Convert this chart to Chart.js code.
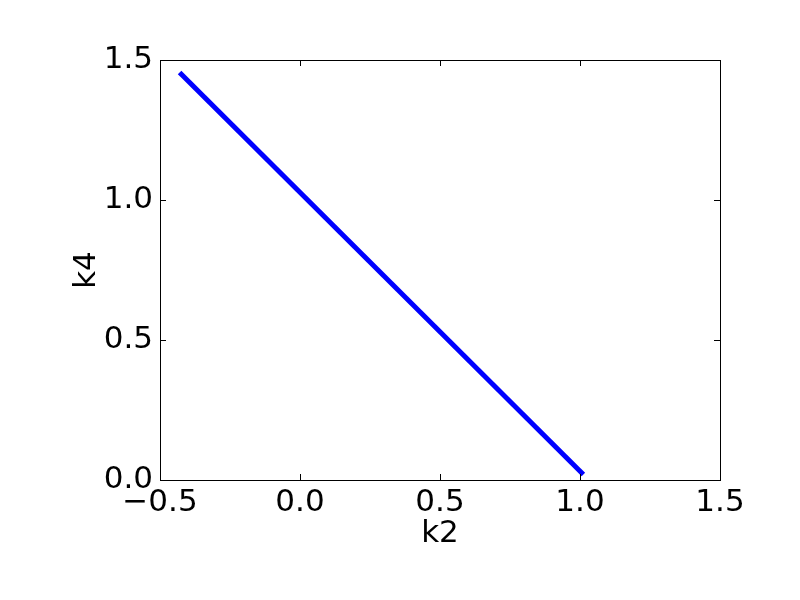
<!DOCTYPE html>
<html>
<head>
<meta charset="utf-8">
<script src="https://cdn.jsdelivr.net/npm/chart.js@4/dist/chart.umd.min.js"></script>
<style>
  html, body { margin: 0; padding: 0; background: #fff; }
  canvas { display: block; }
</style>
</head>
<body>
<canvas id="chart" width="800" height="600"></canvas>
<script>
// data
const k2Values = [-0.43, 1.012];
const k4Values = [1.455, 0.02];
const xTickValues = [-0.5, 0.0, 0.5, 1.0, 1.5];
const yTickValues = [0.0, 0.5, 1.0, 1.5];

const FONT = { family: "'DejaVu Sans', sans-serif", size: 31 };

function fmt(v) {
    return v.toFixed(1).replace('-', '\u2212');
}

// inward ticks on all four sides + closing the frame, matplotlib style
const frameTicks = {
    id: 'frameTicks',
    afterDraw(chart) {
        const ctx = chart.ctx;
        const a = chart.chartArea;
        const xs = chart.scales.x, ys = chart.scales.y;
        const len = 6;
        ctx.save();
        ctx.strokeStyle = '#000';
        ctx.lineWidth = 1;
        ctx.beginPath();
        xTickValues.forEach(function (v) {
            const px = Math.round(xs.getPixelForValue(v)) + 0.5;
            ctx.moveTo(px, a.bottom); ctx.lineTo(px, a.bottom - len);
            ctx.moveTo(px, a.top); ctx.lineTo(px, a.top + len);
        });
        yTickValues.forEach(function (v) {
            const py = Math.round(ys.getPixelForValue(v)) + 0.5;
            ctx.moveTo(a.left, py); ctx.lineTo(a.left + len, py);
            ctx.moveTo(a.right, py); ctx.lineTo(a.right - len, py);
        });
        ctx.stroke();
        ctx.strokeRect(Math.round(a.left) + 0.5, Math.round(a.top) + 0.5,
            Math.round(a.right - a.left), Math.round(a.bottom - a.top));
        ctx.restore();
    }
};

const points = k2Values.map(function (x, i) { return { x: x, y: k4Values[i] }; });

new Chart(document.getElementById('chart'), {
    type: 'scatter',
    data: {
        datasets: [{
            data: points,
            showLine: true,
            borderColor: '#0000ff',
            borderWidth: 5,
            borderCapStyle: 'butt',
            pointRadius: 0,
            fill: false,
        }],
    },
    options: {
        responsive: false,
        animation: false,
        layout: { padding: { top: 60, right: 80, left: 0, bottom: 0 } },
        plugins: { legend: { display: false }, tooltip: { enabled: false } },
        scales: {
            x: {
                type: 'linear',
                min: -0.5, max: 1.5,
                afterBuildTicks: function (s) { s.ticks = xTickValues.map(function (v) { return { value: v }; }); },
                afterFit: function (s) { s.height = 120; },
                grid: { drawOnChartArea: false, drawTicks: false },
                border: { display: true, color: '#000', width: 1 },
                ticks: { color: '#000', font: FONT, padding: 4, maxRotation: 0, callback: fmt },
                title: { display: true, text: 'k2', color: '#000', font: FONT, padding: { top: 0, bottom: 47 } },
            },
            y: {
                type: 'linear',
                min: 0, max: 1.5,
                afterBuildTicks: function (s) { s.ticks = yTickValues.map(function (v) { return { value: v }; }); },
                afterFit: function (s) { s.width = 160; },
                grid: { drawOnChartArea: false, drawTicks: false },
                border: { display: true, color: '#000', width: 1 },
                ticks: { color: '#000', font: FONT, padding: 7, callback: fmt },
                title: { display: true, text: 'k4', color: '#000', font: FONT, padding: { top: 68, bottom: 0 } },
            },
        },
    },
    plugins: [frameTicks],
});
</script>
</body>
</html>
